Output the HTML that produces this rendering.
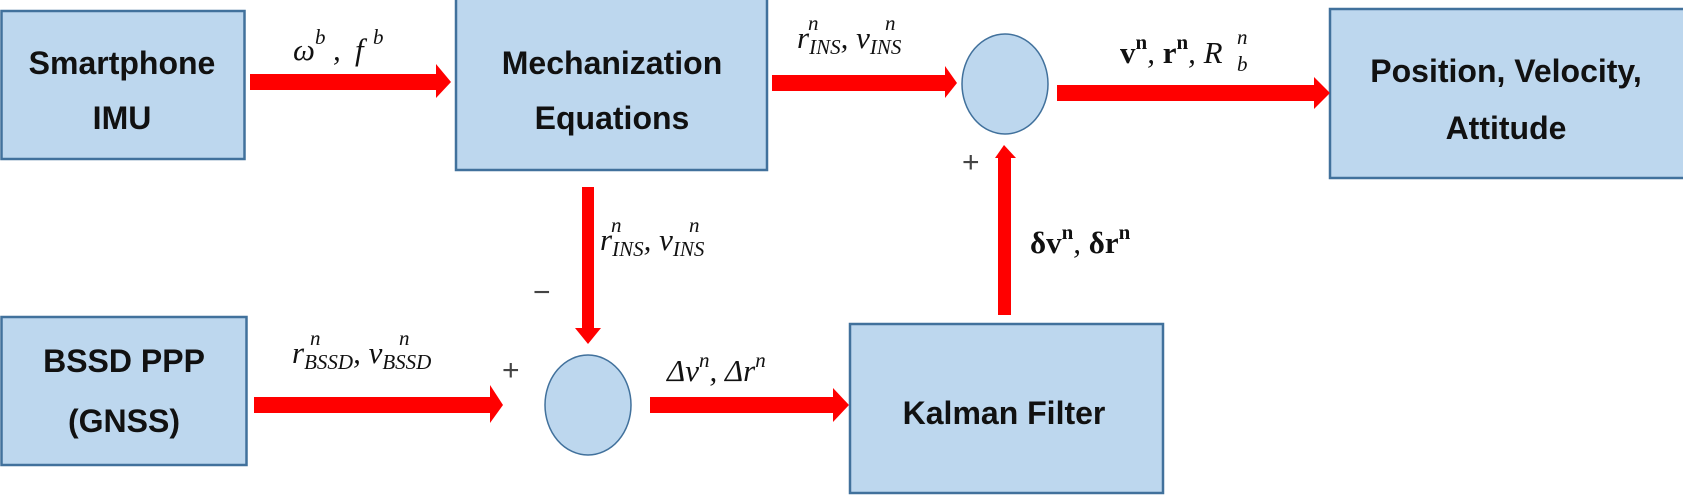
<!DOCTYPE html>
<html><head><meta charset="utf-8"><style>
html,body{margin:0;padding:0;background:#fff;}
svg{display:block;}
.b{font-family:"Liberation Sans",sans-serif;font-weight:bold;font-size:32px;fill:#111;text-anchor:middle;}
.m{font-family:"Liberation Serif",serif;font-style:italic;font-size:31px;fill:#111;}
.s{font-size:21px;}
.u{font-style:normal;font-weight:bold;}
.pm{font-family:"Liberation Sans",sans-serif;font-size:30px;fill:#444;}
</style></head><body>
<svg width="1683" height="495" viewBox="0 0 1683 495" xmlns="http://www.w3.org/2000/svg">
<g fill="#bdd7ee" stroke="#41719c" stroke-width="2.5">
<rect x="1.5" y="11" width="243" height="148"/>
<rect x="456" y="-2" width="311" height="172"/>
<rect x="1330" y="9" width="360" height="169"/>
<rect x="1.5" y="317" width="245" height="148"/>
<rect x="850" y="324" width="313" height="169"/>
<ellipse cx="1005" cy="84" rx="43" ry="50" stroke-width="1.5"/>
<ellipse cx="588" cy="405" rx="43" ry="50" stroke-width="1.5"/>
</g>
<g fill="#ff0000">
<rect x="250" y="74" width="188" height="16"/><polygon points="436,64 451,82 436,98"/>
<rect x="772" y="75" width="175" height="16"/><polygon points="945,66 957,83 945,98"/>
<rect x="1057" y="85" width="260" height="16"/><polygon points="1314,77 1330,93 1314,109"/>
<rect x="582" y="187" width="12" height="143"/><polygon points="575,328 601,328 588,344"/>
<rect x="254" y="397" width="240" height="16"/><polygon points="490,385 503,405 490,423"/>
<rect x="650" y="397" width="186" height="16"/><polygon points="833,388 849,405 833,422"/>
<rect x="998" y="157" width="13" height="158"/><polygon points="995,158 1004,145 1016,158"/>
</g>
<text class="b" x="122" y="74">Smartphone</text>
<text class="b" x="122" y="129">IMU</text>
<text class="b" x="612" y="74">Mechanization</text>
<text class="b" x="612" y="129">Equations</text>
<text class="b" x="1506" y="82">Position, Velocity,</text>
<text class="b" x="1506" y="139">Attitude</text>
<text class="b" x="124" y="372">BSSD PPP</text>
<text class="b" x="124" y="432">(GNSS)</text>
<text class="b" x="1004" y="424">Kalman Filter</text>
<text class="m" x="293" y="60">ω</text><text class="m s" x="315" y="44">b</text>
<text class="m" x="333" y="60">, </text><text class="m" x="355" y="60">f</text><text class="m s" x="373" y="44">b</text>
<text class="m" x="797" y="48">r<tspan class="s" dy="6">INS</tspan><tspan dy="-6">, v</tspan><tspan class="s" dy="6">INS</tspan></text>
<text class="m s" x="808" y="30">n</text><text class="m s" x="885" y="30">n</text>
<text class="m" x="1120" y="63"><tspan class="u">v</tspan><tspan class="s u" dy="-14">n</tspan><tspan dy="14">, </tspan><tspan class="u">r</tspan><tspan class="s u" dy="-14">n</tspan><tspan dy="14">, R</tspan></text>
<text class="m s" x="1237" y="71">b</text><text class="m s" x="1237" y="44">n</text>
<text class="m" x="600" y="250">r<tspan class="s" dy="6">INS</tspan><tspan dy="-6">, v</tspan><tspan class="s" dy="6">INS</tspan></text>
<text class="m s" x="611" y="232">n</text><text class="m s" x="689" y="232">n</text>
<text class="m" x="1030" y="253"><tspan class="u">δv</tspan><tspan class="s u" dy="-14">n</tspan><tspan dy="14">, </tspan><tspan class="u">δr</tspan><tspan class="s u" dy="-14">n</tspan></text>
<text class="m" x="292" y="363">r<tspan class="s" dy="6">BSSD</tspan><tspan dy="-6">, v</tspan><tspan class="s" dy="6">BSSD</tspan></text>
<text class="m s" x="310" y="345">n</text><text class="m s" x="399" y="345">n</text>
<text class="m" x="667" y="381">Δv<tspan class="s" dy="-14">n</tspan><tspan dy="14">, Δr</tspan><tspan class="s" dy="-14">n</tspan></text>
<text class="pm" x="962" y="172">+</text>
<text class="pm" x="533" y="302">−</text>
<text class="pm" x="502" y="380">+</text>
</svg>
</body></html>
